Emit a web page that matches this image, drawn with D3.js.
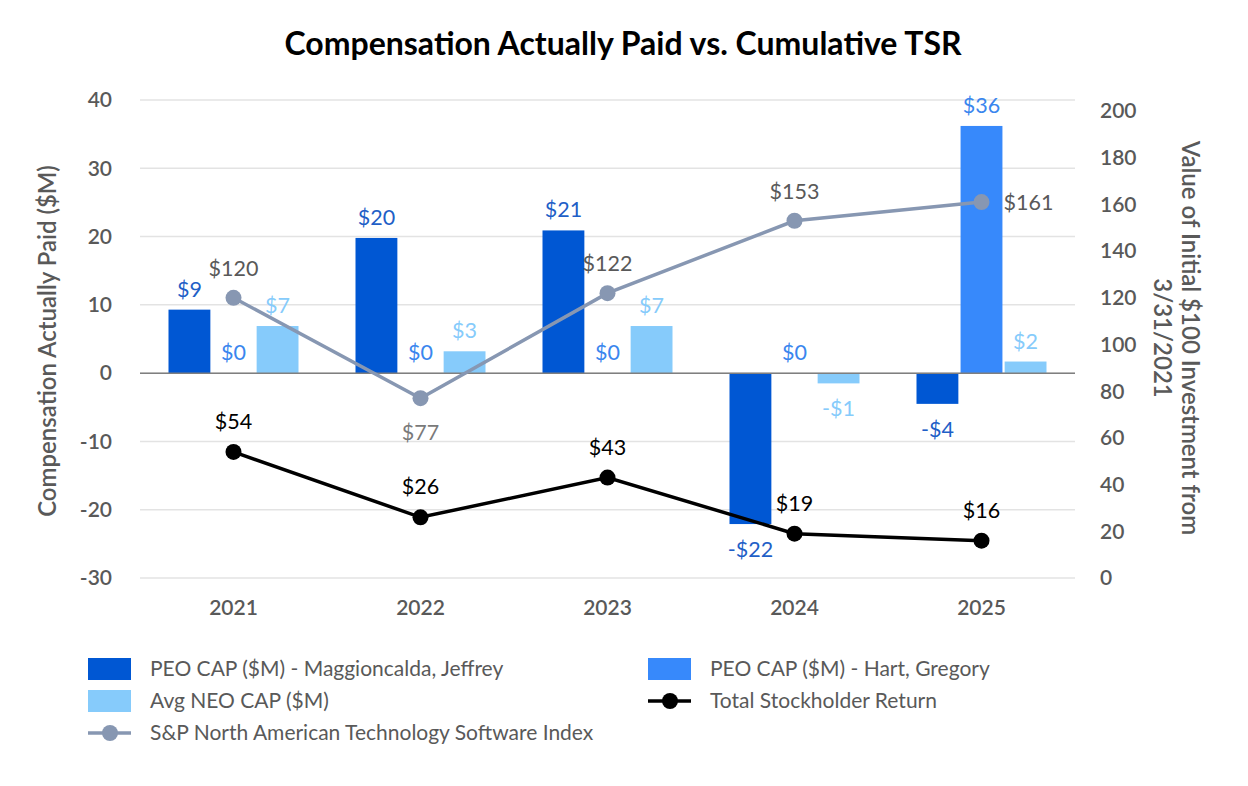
<!DOCTYPE html>
<html>
<head>
    <script src="https://d3js.org/d3.v7.min.js"></script>
    <style>
        body { margin: 0; background: #fff; }
        text { font-family: Lato, "Noto Sans", sans-serif; }
    </style>
</head>
<body>
    <div id="chart"></div>
    <script>
        // data
        const years = ["2021", "2022", "2023", "2024", "2025"];
        const peoMaggioncalda = [9.3, 19.8, 20.9, -22.1, -4.5];
        const peoHart = [0, 0, 0, 0, 36.2];
        const avgNeo = [6.9, 3.2, 6.9, -1.5, 1.7];
        const tsr = [54, 26, 43, 19, 16];
        const spIndex = [120, 77, 122, 153, 161];
        const leftTicks = [-30, -20, -10, 0, 10, 20, 30, 40];
        const rightTicks = [0, 20, 40, 60, 80, 100, 120, 140, 160, 180, 200];

        const W = 1248, H = 786;
        const plot = { left: 140, right: 1075, top: 100, bottom: 578 };

        const svg = d3.select("#chart").append("svg")
            .attr("width", W).attr("height", H);

        const x = d3.scaleBand().domain(years).range([plot.left, plot.right]).padding(0);
        const yL = d3.scaleLinear().domain([-30, 40]).range([plot.bottom, plot.top]);
        const yR = d3.scaleLinear().domain([0, 200]).range([plot.bottom, 111]);

        const barKeys = ["mag", "hart", "neo"];
        const xSub = d3.scaleBand().domain(barKeys).range([-65, 65]).paddingInner(0.05);
        const barColor = { mag: "#0057d3", hart: "#3789fb", neo: "#86cbfb" };
        const labelColor = { mag: "#1f5fc7", hart: "#3a86ee", neo: "#86cbfb" };
        const series = { mag: peoMaggioncalda, hart: peoHart, neo: avgNeo };

        const fmt = v => (Math.round(v) < 0 ? "-$" : "$") + Math.abs(Math.round(v));

        // title
        svg.append("text")
            .attr("x", W / 2 - 1).attr("y", 55)
            .attr("text-anchor", "middle")
            .style("font-size", "32px").style("font-weight", "700")
            .attr("fill", "#000")
            .text("Compensation Actually Paid vs. Cumulative TSR");

        // gridlines
        svg.append("g").selectAll("line").data(leftTicks).join("line")
            .attr("x1", plot.left).attr("x2", plot.right)
            .attr("y1", d => yL(d)).attr("y2", d => yL(d))
            .attr("stroke", "#e3e3e3").attr("stroke-width", 1.5);

        // left ticks
        svg.append("g").selectAll("text").data(leftTicks).join("text")
            .attr("x", 112).attr("y", d => yL(d)).attr("dy", "0.35em")
            .attr("text-anchor", "end")
            .style("font-size", "21px").style("font-weight", "600")
            .attr("fill", "#595959")
            .text(d => d);

        // right ticks
        svg.append("g").selectAll("text").data(rightTicks).join("text")
            .attr("x", 1100).attr("y", d => yR(d)).attr("dy", "0.35em")
            .attr("text-anchor", "start")
            .style("font-size", "21px").style("font-weight", "600")
            .attr("fill", "#595959")
            .text(d => d);

        // x labels
        svg.append("g").selectAll("text").data(years).join("text")
            .attr("x", d => x(d) + x.bandwidth() / 2).attr("y", 615)
            .attr("text-anchor", "middle")
            .style("font-size", "21px").style("font-weight", "600")
            .attr("fill", "#595959")
            .text(d => d);

        // axis titles
        svg.append("text")
            .attr("transform", "translate(56,341) rotate(-90)")
            .attr("text-anchor", "middle")
            .style("font-size", "24px").style("font-weight", "600")
            .attr("fill", "#595959")
            .text("Compensation Actually Paid ($M)");
        const rt = svg.append("text")
            .attr("transform", "translate(1182,338) rotate(90)")
            .attr("text-anchor", "middle")
            .style("font-size", "24px").style("font-weight", "600")
            .attr("fill", "#595959");
        rt.append("tspan").attr("x", 0).attr("y", 0).text("Value of Initial $100 Investment from");
        rt.append("tspan").attr("x", 0).attr("y", 28).text("3/31/2021");

        // bars
        const flat = [];
        years.forEach((yr, i) => barKeys.forEach(k => flat.push({ yr, k, v: series[k][i] })));
        const cx = yr => x(yr) + x.bandwidth() / 2;

        svg.append("g").selectAll("rect").data(flat.filter(d => d.v !== 0)).join("rect")
            .attr("x", d => cx(d.yr) + xSub(d.k))
            .attr("width", xSub.bandwidth())
            .attr("y", d => yL(Math.max(0, d.v)))
            .attr("height", d => Math.abs(yL(d.v) - yL(0)))
            .attr("fill", d => barColor[d.k]);

        // zero line
        svg.append("line")
            .attr("x1", plot.left).attr("x2", plot.right)
            .attr("y1", yL(0)).attr("y2", yL(0))
            .attr("stroke", "#7f7f7f").attr("stroke-width", 1.5);

        // lines
        const line = d3.line().x((d, i) => cx(years[i])).y(d => yR(d));
        function drawLine(vals, color, width) {
            svg.append("path").datum(vals)
                .attr("d", line).attr("fill", "none")
                .attr("stroke", color).attr("stroke-width", width);
            svg.append("g").selectAll("circle").data(vals).join("circle")
                .attr("cx", (d, i) => cx(years[i])).attr("cy", d => yR(d))
                .attr("r", 8).attr("fill", color);
        }
        drawLine(spIndex, "#8797b2", 3.5);
        drawLine(tsr, "#000", 3.5);

        // bar labels
        svg.append("g").selectAll("text").data(flat).join("text")
            .attr("x", d => cx(d.yr) + xSub(d.k) + xSub.bandwidth() / 2)
            .attr("y", d => d.v < 0 ? yL(d.v) + 33 : yL(d.v) - 13)
            .attr("text-anchor", "middle")
            .style("font-size", "21.5px")
            .attr("fill", d => labelColor[d.k])
            .text(d => fmt(d.v));

        // S&P labels
        svg.append("g").selectAll("text").data(spIndex).join("text")
            .attr("x", (d, i) => i === 4 ? cx(years[i]) + 22 : cx(years[i]))
            .attr("y", (d, i) => i === 1 ? yR(d) + 42 : (i === 4 ? yR(d) + 8 : yR(d) - 22))
            .attr("text-anchor", (d, i) => i === 4 ? "start" : "middle")
            .style("font-size", "21.5px")
            .attr("fill", (d, i) => i === 1 ? "#7a7a7a" : "#595959")
            .text(d => fmt(d));

        // TSR labels
        svg.append("g").selectAll("text").data(tsr).join("text")
            .attr("x", (d, i) => cx(years[i]))
            .attr("y", d => yR(d) - 23)
            .attr("text-anchor", "middle")
            .style("font-size", "21.5px")
            .attr("fill", "#000")
            .text(d => fmt(d));

        // legend
        const legendItems = [
            { label: "PEO CAP ($M) - Maggioncalda, Jeffrey", type: "bar", color: barColor.mag, col: 0, row: 0 },
            { label: "PEO CAP ($M) - Hart, Gregory", type: "bar", color: barColor.hart, col: 1, row: 0 },
            { label: "Avg NEO CAP ($M)", type: "bar", color: barColor.neo, col: 0, row: 1 },
            { label: "Total Stockholder Return", type: "line", color: "#000", col: 1, row: 1 },
            { label: "S&P North American Technology Software Index", type: "line", color: "#8797b2", col: 0, row: 2 }
        ];
        const lg = svg.append("g").selectAll("g").data(legendItems).join("g")
            .attr("transform", d => `translate(${d.col === 0 ? 88 : 648},${669 + d.row * 32})`);
        lg.filter(d => d.type === "bar").append("rect")
            .attr("x", 0).attr("y", -11).attr("width", 43).attr("height", 22)
            .attr("fill", d => d.color);
        lg.filter(d => d.type === "line").append("line")
            .attr("x1", 0).attr("x2", 43).attr("y1", 0).attr("y2", 0)
            .attr("stroke", d => d.color).attr("stroke-width", 3.5);
        lg.filter(d => d.type === "line").append("circle")
            .attr("cx", 22).attr("cy", 0).attr("r", 8)
            .attr("fill", d => d.color);
        lg.append("text")
            .attr("x", 62).attr("y", 0).attr("dy", "0.35em")
            .style("font-size", "21px")
            .attr("fill", "#595959")
            .text(d => d.label);
    </script>
</body>
</html>
